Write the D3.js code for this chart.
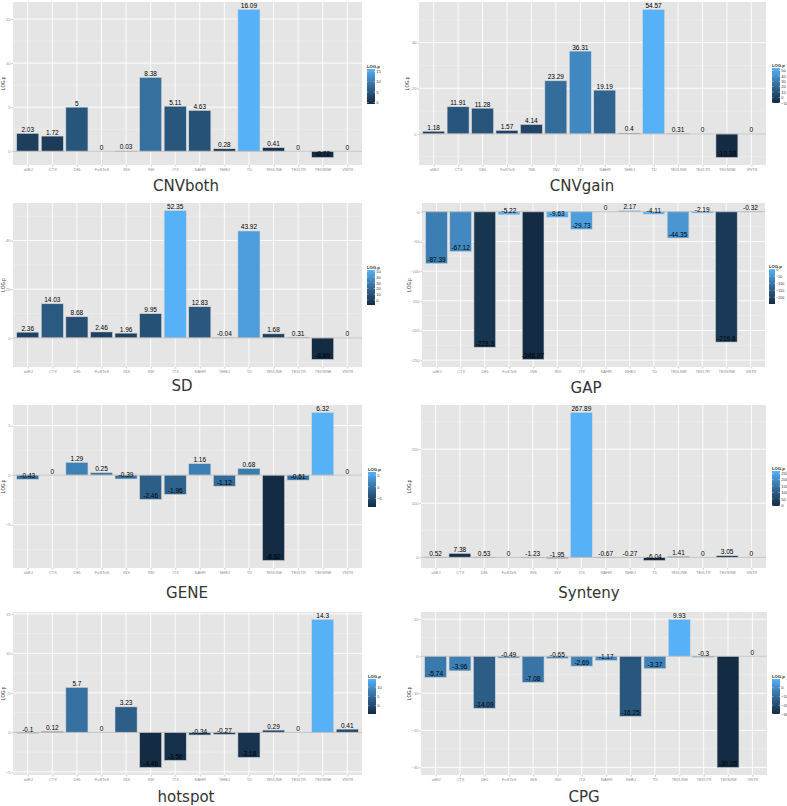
<!DOCTYPE html>
<html><head><meta charset="utf-8">
<script src="https://cdn.jsdelivr.net/npm/d3@7"></script>
<style>body{margin:0;background:#fff}svg{display:block}</style>
</head><body>
<svg id="c" width="787" height="806"></svg>
<script>
// ---------- data ----------
const categories = ["altEJ","CTX","DEL","FoSTeS","INS","INV","ITX","NAHR","NHEJ","TD","TEI/LINE","TEI/LTR","TEI/SINE","VNTR"];
const titles = ["CNVboth","CNVgain","SD","GAP","GENE","Synteny","hotspot","CPG"];
const cnvboth = [2.03,1.72,5,0,0.03,8.38,5.11,4.63,0.28,16.09,0.41,0,-0.72,0];
const cnvgain = [1.18,11.91,11.28,1.57,4.14,23.29,36.31,19.19,0.4,54.57,0.31,0,-10.38,0];
const sd      = [2.36,14.03,8.68,2.46,1.96,9.95,52.35,12.83,-0.04,43.92,1.68,0.31,-8.89,0];
const gap     = [-87.39,-67.12,-228.3,-5.22,-248.97,-9.63,-29.73,0,2.17,-4.11,-44.35,-2.19,-219.6,-0.32];
const gene    = [-0.43,0,1.29,0.25,-0.39,-2.46,-1.96,1.16,-1.12,0.68,-8.62,-0.51,6.32,0];
const synteny = [0.52,7.38,0.53,0,-1.23,-1.95,267.89,-0.67,-0.27,-6.04,1.41,0,3.05,0];
const hotspot = [-0.1,0.12,5.7,0,3.23,-4.46,-3.56,-0.34,-0.27,-3.18,0.29,0,14.3,0.41];
const cpg     = [-5.74,-3.96,-14.09,-0.49,-7.08,-0.65,-2.69,-1.17,-16.25,-3.37,9.93,-0.3,-30.05,0];
const seriesValues = [cnvboth,cnvgain,sd,gap,gene,synteny,hotspot,cpg];
const yTickValues = [[0,5,10,15],[0,20,40],[0,20,40],[-250,-200,-150,-100,-50,0],[-5,0,5],[0,100,200],[-5,0,5,10,15],[-30,-20,-10,0,10]];
const legendTickValues = [[0,5,10,15],[-10,0,10,20,30,40,50],[0,10,20,30,40,50],[-200,-150,-100,-50,0],[-5,0,5],[0,50,100,150,200,250],[0,5,10],[-30,-20,-10,0]];

// ---------- layout ----------
const plotRects = [[13,362,2,165],[419,766,2,165],[13,362,203,367],[422,765,203,367],
                   [13,362,405,568],[421,766,405,568],[13,362,612,775],[421,767,612,775]];
const titlePos = [[186,186],[582,186],[182,386],[586,388],[187,593],[589,593],[186,797],[584,797]];
const legendPos = [[367,69],[772,68],[367,270],[769,269],[368,472],[772,471],[368,679],[772,679]];
const legendW = [8,8,8,6,8,8,8,8];
const yTitleX = [5,409,5,411,5,411,5,411];

const svg = d3.select("#c");
const FONT = "'Liberation Sans', Arial, sans-serif";
const defs = svg.append("defs");

seriesValues.forEach((vals, p) => {
  const [x0,x1,y0,y1] = plotRects[p];
  const g = svg.append("g");
  const mn = Math.min(0, d3.min(vals)), mx = Math.max(0, d3.max(vals));
  const pad = (mx - mn) * 0.05;
  const y = d3.scaleLinear().domain([mn - pad, mx + pad]).range([y1, y0]);
  const x = d3.scaleLinear().domain([0.4, categories.length + 0.6]).range([x0, x1]);
  const vmin = d3.min(vals), vmax = d3.max(vals);
  const color = d3.scaleLinear().domain([vmin, vmax]).range(["#132B43","#56B1F7"]).interpolate(d3.interpolateLab);

  g.append("rect").attr("x",x0).attr("y",y0).attr("width",x1-x0).attr("height",y1-y0).attr("fill","#E5E5E5");
  const ticks = yTickValues[p];
  const step = ticks[1]-ticks[0];
  const minor = [];
  for (let i=-1;i<ticks.length;i++){ const v = ticks[0]+step*(i+0.5); if (v>y.domain()[0] && v<y.domain()[1]) minor.push(v); }
  g.selectAll(".mn").data(minor).enter().append("line")
    .attr("x1",x0).attr("x2",x1).attr("y1",d=>y(d)).attr("y2",d=>y(d)).attr("stroke","#F2F2F2").attr("stroke-width",0.5);
  g.selectAll(".mj").data(ticks).enter().append("line")
    .attr("x1",x0).attr("x2",x1).attr("y1",d=>y(d)).attr("y2",d=>y(d)).attr("stroke","#fff").attr("stroke-width",0.9);
  g.selectAll(".vg").data(categories).enter().append("line")
    .attr("x1",(d,i)=>x(i+1)).attr("x2",(d,i)=>x(i+1)).attr("y1",y0).attr("y2",y1).attr("stroke","#fff").attr("stroke-width",0.9);

  // bars
  const bw = x(1.45) - x(0.55);
  g.selectAll(".bar").data(vals).enter().append("rect")
    .attr("x",(d,i)=>x(i+1)-bw/2).attr("width",bw)
    .attr("y",d=>y(Math.max(0,d))).attr("height",d=>Math.abs(y(d)-y(0)))
    .attr("fill",d=>color(d)).attr("stroke",d=>d===0?"none":"#d6d6d6").attr("stroke-width",0.6);
  // zero line
  g.append("line").attr("x1",x0).attr("x2",x1).attr("y1",y(0)).attr("y2",y(0)).attr("stroke","#b3b3b3").attr("stroke-width",0.8);
  // value labels
  g.selectAll(".lab").data(vals).enter().append("text")
    .attr("x",(d,i)=>x(i+1)).attr("y",d=>y(d)-1.5)
    .attr("text-anchor","middle").attr("font-family",FONT).attr("font-size",6.5).attr("fill","#000")
    .text(d=>String(d));

  // axes
  const xa = g.append("g").attr("transform",`translate(0,${y1})`)
    .call(d3.axisBottom(x).tickValues(d3.range(1,categories.length+1)).tickFormat(i=>categories[i-1]).tickSize(1.5).tickPadding(1.5));
  const ya = g.append("g").attr("transform",`translate(${x0},0)`)
    .call(d3.axisLeft(y).tickValues(ticks).tickSize(1.5).tickPadding(1));
  [xa,ya].forEach(a=>{
    a.select(".domain").remove();
    a.selectAll("line").attr("stroke","#8c8c8c").attr("stroke-width",0.5);
    a.selectAll("text").attr("font-family",FONT).attr("font-size",4).attr("fill","#8c8c8c");
  });
  // y title
  g.append("text").attr("transform",`translate(${yTitleX[p]},${(y0+y1)/2}) rotate(-90)`)
    .attr("text-anchor","middle").attr("font-family",FONT).attr("font-size",4.5).attr("fill","#333").text("LOG.p");
  // title
  g.append("text").attr("x",titlePos[p][0]).attr("y",titlePos[p][1]).attr("dy","0.36em")
    .attr("text-anchor","middle").attr("font-family","'DejaVu Sans', sans-serif").attr("font-size",15).attr("fill","#333").text(titles[p]);

  // legend
  const [lx,ly] = legendPos[p];
  const lw = legendW[p], lh = 35;
  const gid = "grad"+p;
  const lg = defs.append("linearGradient").attr("id",gid).attr("x1",0).attr("x2",0).attr("y1",1).attr("y2",0);
  d3.range(0,1.0001,0.1).forEach(t=>{
    lg.append("stop").attr("offset",t).attr("stop-color",color(vmin+(vmax-vmin)*t));
  });
  const ls = d3.scaleLinear().domain([vmin,vmax]).range([ly+lh,ly]);
  g.append("text").attr("x",lx).attr("y",ly-1.5).attr("font-family",FONT).attr("font-size",4.2).attr("font-weight","bold").attr("fill","#222").text("LOG.p");
  g.append("rect").attr("x",lx).attr("y",ly).attr("width",lw).attr("height",lh).attr("fill",`url(#${gid})`);
  const la = g.append("g").attr("transform",`translate(${lx+lw},0)`)
    .call(d3.axisRight(ls).tickValues(legendTickValues[p]).tickSize(0).tickPadding(1.2));
  la.select(".domain").remove();
  la.selectAll("text").attr("font-family",FONT).attr("font-size",p===3?3.6:4).attr("fill","#333");
  g.selectAll(".lt").data(legendTickValues[p]).enter().append("line")
    .attr("x1",lx).attr("x2",lx+1.5).attr("y1",d=>ls(d)).attr("y2",d=>ls(d)).attr("stroke","#fff").attr("stroke-width",0.4);
  g.selectAll(".lt2").data(legendTickValues[p]).enter().append("line")
    .attr("x1",lx+lw-1.5).attr("x2",lx+lw).attr("y1",d=>ls(d)).attr("y2",d=>ls(d)).attr("stroke","#fff").attr("stroke-width",0.4);
});
</script>
</body></html>
